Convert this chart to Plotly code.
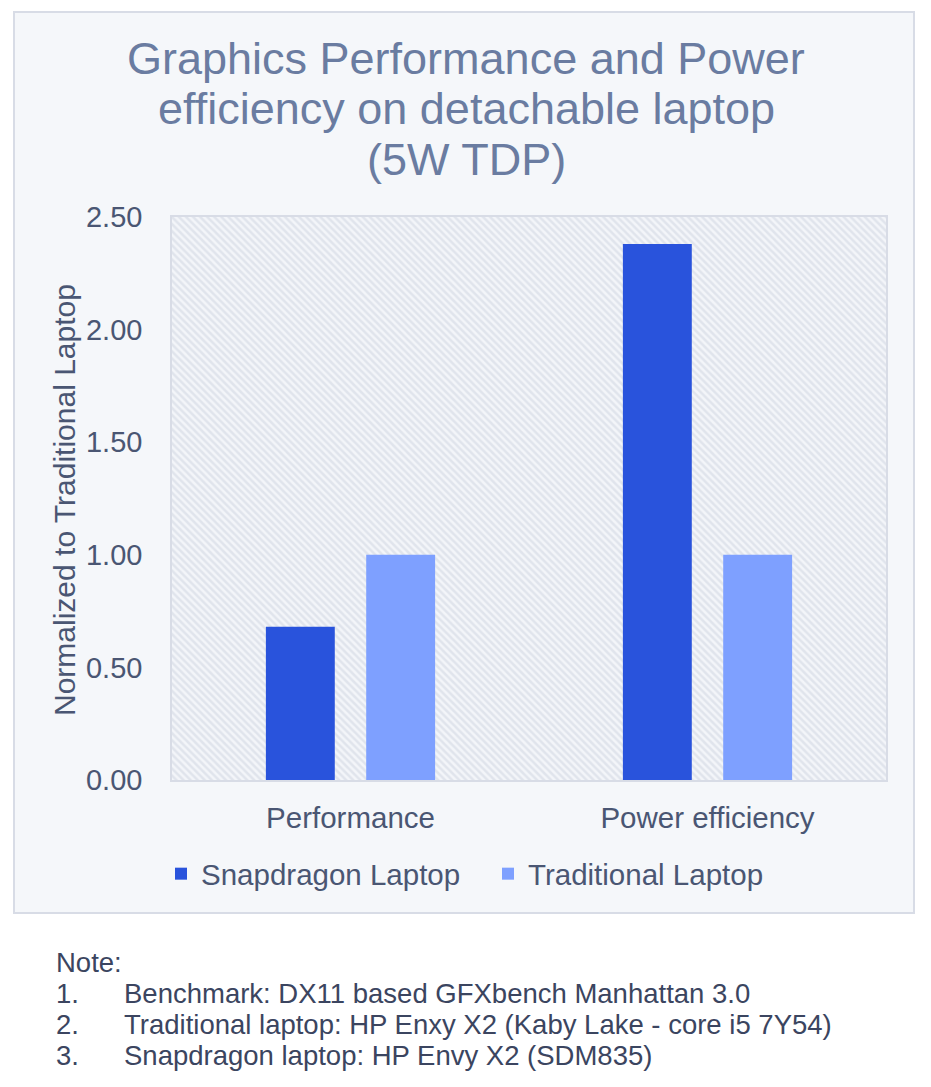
import plotly.graph_objects as go

categories = ["Performance", "Power efficiency"]
snapdragon = [0.68, 2.38]
traditional = [1.00, 1.00]
series_names = ["Snapdragon Laptop", "Traditional Laptop"]
y_ticks = [0.0, 0.5, 1.0, 1.5, 2.0, 2.5]
title_lines = [
    "Graphics Performance and Power",
    "efficiency on detachable laptop",
    "(5W TDP)",
]
note_header = "Note:"
note_numbers = ["1.", "2.", "3."]
note_texts = [
    "Benchmark: DX11 based GFXbench Manhattan 3.0",
    "Traditional laptop: HP Enxy X2 (Kaby Lake - core i5 7Y54)",
    "Snapdragon laptop: HP Envy X2 (SDM835)",
]

FONT = "Liberation Sans, Arial, sans-serif"
TEXT = "#4A5673"
NOTE = "#3B4560"
W, H = 931, 1087
L, R, T, B = 172, 45, 217, 307
PW, PH = W - L - R, H - T - B


def px(x):
    return (x - L) / PW


def py(y):
    return (H - B - y) / PH


fig = go.Figure()

# hatched plot background
fig.add_trace(go.Bar(
    x=categories, y=[max(y_ticks)] * len(categories), width=1.0, offset=-0.5,
    marker=dict(color="rgba(0,0,0,0)", line=dict(width=0),
                pattern=dict(shape="\\", fgcolor="#CDD3DF", bgcolor="#F3F5F9",
                             size=5, solidity=0.5)),
    showlegend=False, hoverinfo="skip",
))

fig.add_trace(go.Bar(
    x=categories, y=snapdragon, name=series_names[0], width=0.193, offset=-0.237,
    marker=dict(color="#2953DC", line=dict(width=0)),
))
fig.add_trace(go.Bar(
    x=categories, y=traditional, name=series_names[1], width=0.193, offset=0.044,
    marker=dict(color="#7EA0FF", line=dict(width=0)),
))

annotations = []
for i, line in enumerate(title_lines):
    annotations.append(dict(text=line, x=px(466), y=py(58 + 50.5 * i), xref="paper", yref="paper",
                            xanchor="center", yanchor="middle", showarrow=False,
                            font=dict(family=FONT, size=45, color="#6A7CA1")))
annotations.append(dict(text="Normalized to Traditional Laptop", textangle=-90,
                        x=px(65), y=py(500), xref="paper", yref="paper",
                        xanchor="center", yanchor="middle", showarrow=False,
                        font=dict(family=FONT, size=30, color=TEXT)))
annotations.append(dict(text=note_header, x=px(54), y=py(962), xref="paper", yref="paper",
                        xanchor="left", yanchor="middle", showarrow=False,
                        font=dict(family=FONT, size=27.5, color=NOTE)))
for i, (n, t) in enumerate(zip(note_numbers, note_texts)):
    yy = py(993 + 31 * i)
    annotations.append(dict(text=n, x=px(54), y=yy, xref="paper", yref="paper",
                            xanchor="left", yanchor="middle", showarrow=False,
                            font=dict(family=FONT, size=27.5, color=NOTE)))
    annotations.append(dict(text=t, x=px(122), y=yy, xref="paper", yref="paper",
                            xanchor="left", yanchor="middle", showarrow=False,
                            font=dict(family=FONT, size=27.5, color=NOTE)))

shapes = [
    dict(type="rect", xref="paper", yref="paper", x0=px(14), x1=px(914), y0=py(913), y1=py(12),
         fillcolor="#F5F7FA", line=dict(color="#D8DCE6", width=2), layer="below"),
]

fig.update_layout(
    width=W, height=H,
    margin=dict(l=L, r=R, t=T, b=B, pad=0),
    paper_bgcolor="white",
    plot_bgcolor="rgba(0,0,0,0)",
    barmode="overlay",
    font=dict(family=FONT, color=TEXT),
    xaxis=dict(type="category", categoryorder="array", categoryarray=categories,
               range=[-0.5, len(categories) - 0.5],
               showgrid=True, tickson="boundaries", gridcolor="#D8DCE6", gridwidth=1.5,
               ticks="", ticklabelstandoff=11,
               showline=True, linecolor="#D8DCE6", linewidth=1.5, mirror=True,
               tickfont=dict(family=FONT, size=29.5, color=TEXT), zeroline=False),
    yaxis=dict(range=[0, 2.5], tickvals=y_ticks, tickformat=".2f",
               showgrid=True, gridcolor="#D8DCE6", gridwidth=1.5,
               ticks="outside", ticklen=22, tickcolor="rgba(0,0,0,0)",
               showline=True, linecolor="#D8DCE6", linewidth=1.5, mirror=True,
               zeroline=False,
               tickfont=dict(family=FONT, size=29, color=TEXT)),
    legend=dict(orientation="h", x=px(161), xanchor="left", y=py(874), yanchor="middle",
                bgcolor="rgba(0,0,0,0)", entrywidth=282, entrywidthmode="pixels",
                font=dict(family=FONT, size=29.5, color=TEXT)),
    annotations=annotations,
    shapes=shapes,
)

fig.write_html("out.html", config={"displayModeBar": False},
               post_script="document.body.style.margin='0';")
